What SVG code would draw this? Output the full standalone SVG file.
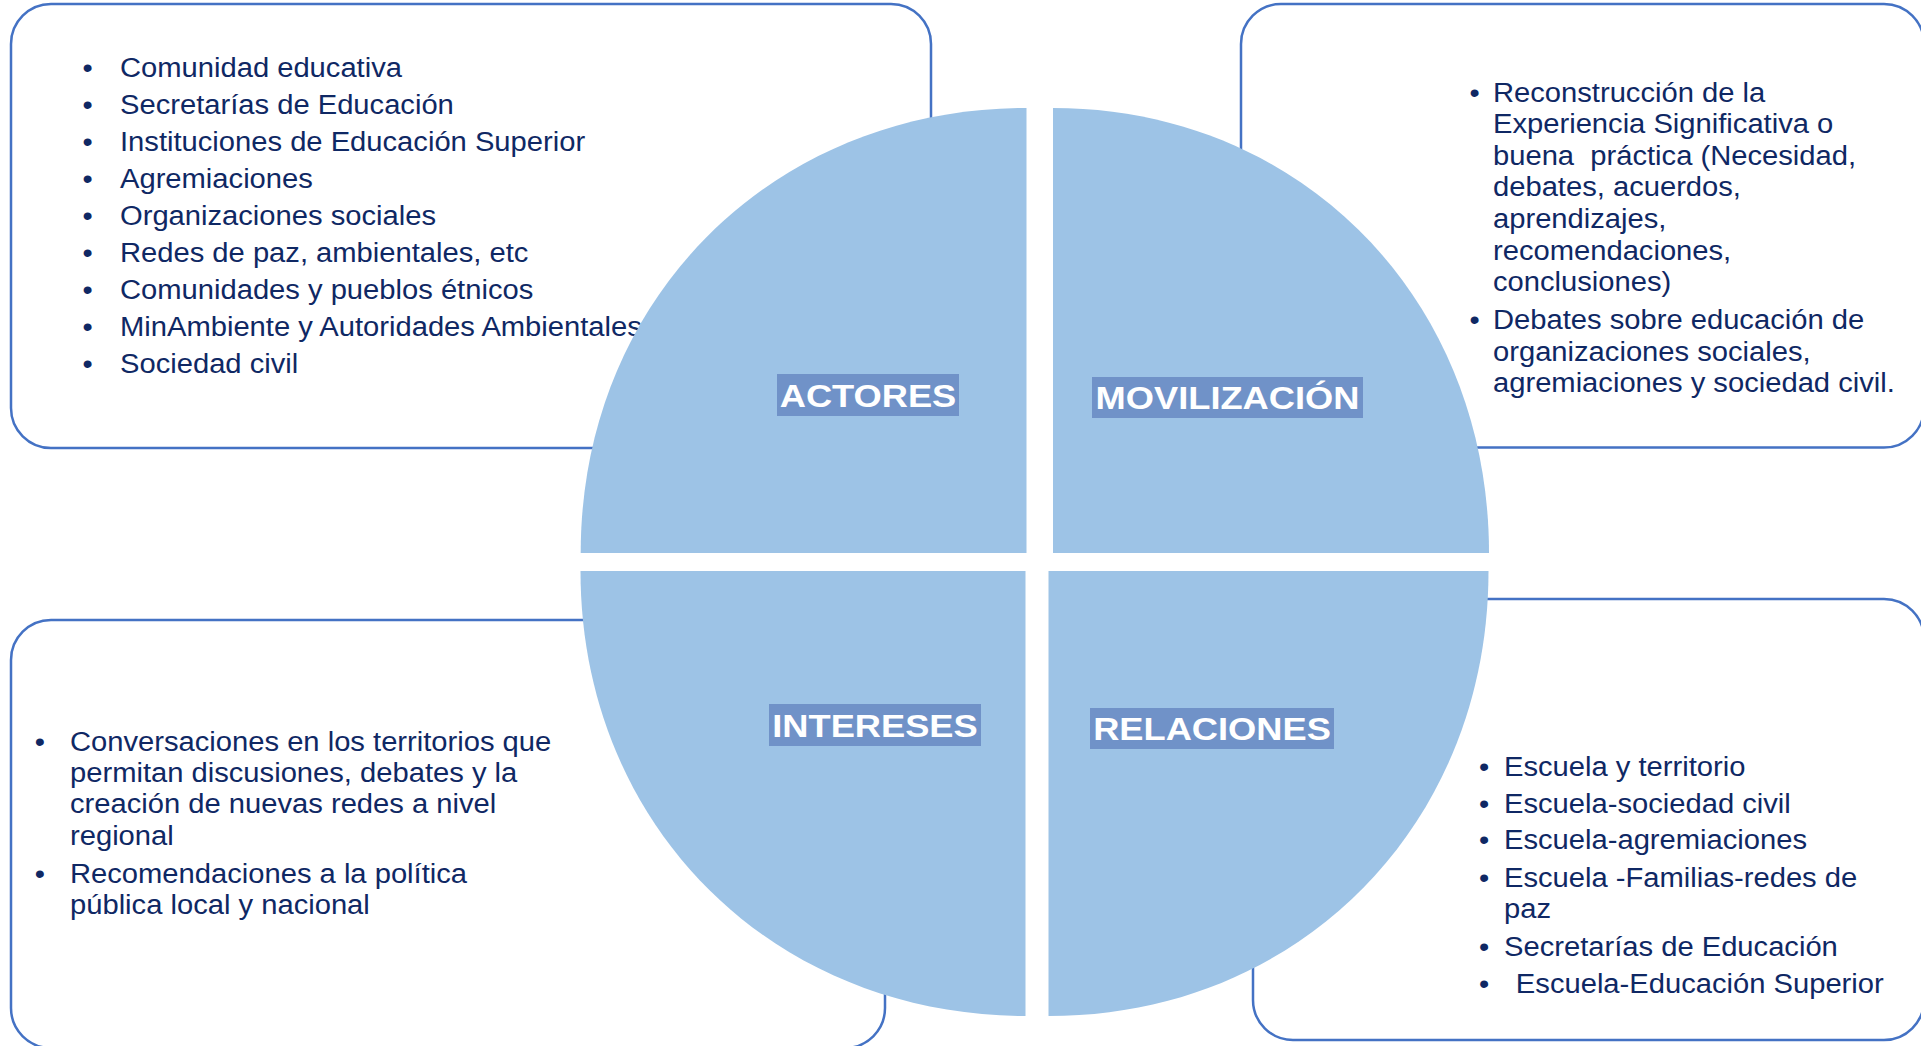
<svg xmlns="http://www.w3.org/2000/svg" width="1921" height="1046" viewBox="0 0 1921 1046">
<style>
.box{fill:#ffffff;stroke:#4472c4;stroke-width:2.5}
.q{fill:#9dc3e6}
.lbl{fill:#7092c8}
.lt{font-family:"Liberation Sans",Arial,sans-serif;font-weight:bold;font-size:31px;fill:#ffffff;text-anchor:middle}
.t{font-family:"Liberation Sans",Arial,sans-serif;font-size:27px;fill:#0f2864}
.b{font-family:"Liberation Sans",Arial,sans-serif;font-size:27px;fill:#0f2864;text-anchor:middle}
</style>
<rect width="1921" height="1046" fill="#ffffff"/>
<g id="box-actores">
<rect class="box" x="11" y="4" width="920" height="444" rx="40" ry="40"/>
<g transform="translate(120,0) scale(1.08,1)">
<text class="b" x="-30" y="77.3">•</text><text class="t" x="0" y="77.3">Comunidad educativa</text>
<text class="b" x="-30" y="114.3">•</text><text class="t" x="0" y="114.3">Secretarías de Educación</text>
<text class="b" x="-30" y="151.3">•</text><text class="t" x="0" y="151.3">Instituciones de Educación Superior</text>
<text class="b" x="-30" y="188.3">•</text><text class="t" x="0" y="188.3">Agremiaciones</text>
<text class="b" x="-30" y="225.3">•</text><text class="t" x="0" y="225.3">Organizaciones sociales</text>
<text class="b" x="-30" y="262.3">•</text><text class="t" x="0" y="262.3">Redes de paz, ambientales, etc</text>
<text class="b" x="-30" y="299.3">•</text><text class="t" x="0" y="299.3">Comunidades y pueblos étnicos</text>
<text class="b" x="-30" y="336.3">•</text><text class="t" x="0" y="336.3">MinAmbiente y Autoridades Ambientales</text>
<text class="b" x="-30" y="373.3">•</text><text class="t" x="0" y="373.3">Sociedad civil</text>
</g>
</g>
<g id="box-movilizacion">
<rect class="box" x="1241" y="4" width="683" height="443.5" rx="40" ry="40"/>
<g transform="translate(1493,0) scale(1.08,1)">
<text class="b" x="-17" y="101.7">•</text><text class="t" x="0" y="101.7">Reconstrucción de la</text>
<text class="t" x="0" y="133.3">Experiencia Significativa o</text>
<text class="t" x="0" y="164.9" xml:space="preserve">buena  práctica (Necesidad,</text>
<text class="t" x="0" y="196.5">debates, acuerdos,</text>
<text class="t" x="0" y="228.1">aprendizajes,</text>
<text class="t" x="0" y="259.7">recomendaciones,</text>
<text class="t" x="0" y="291.3">conclusiones)</text>
<text class="b" x="-17" y="329">•</text><text class="t" x="0" y="329">Debates sobre educación de</text>
<text class="t" x="0" y="360.6">organizaciones sociales,</text>
<text class="t" x="0" y="392.2">agremiaciones y sociedad civil.</text>
</g>
</g>
<g id="box-intereses">
<rect class="box" x="11" y="620" width="874" height="428" rx="40" ry="40"/>
<g transform="translate(70,0) scale(1.08,1)">
<text class="b" x="-28" y="750.7">•</text><text class="t" x="0" y="750.7">Conversaciones en los territorios que</text>
<text class="t" x="0" y="782">permitan discusiones, debates y la</text>
<text class="t" x="0" y="813.4">creación de nuevas redes a nivel</text>
<text class="t" x="0" y="845">regional</text>
<text class="b" x="-28" y="882.7">•</text><text class="t" x="0" y="882.7">Recomendaciones a la política</text>
<text class="t" x="0" y="914.2">pública local y nacional</text>
</g>
</g>
<g id="box-relaciones">
<rect class="box" x="1253" y="599" width="671" height="441" rx="40" ry="40"/>
<g transform="translate(1504,0) scale(1.08,1)">
<text class="b" x="-18.5" y="776">•</text><text class="t" x="0" y="776">Escuela y territorio</text>
<text class="b" x="-18.5" y="812.7">•</text><text class="t" x="0" y="812.7">Escuela-sociedad civil</text>
<text class="b" x="-18.5" y="849.3">•</text><text class="t" x="0" y="849.3">Escuela-agremiaciones</text>
<text class="b" x="-18.5" y="886.7">•</text><text class="t" x="0" y="886.7">Escuela -Familias-redes de</text>
<text class="t" x="0" y="918.3">paz</text>
<text class="b" x="-18.5" y="956">•</text><text class="t" x="0" y="956">Secretarías de Educación</text>
<text class="b" x="-18.5" y="992.7">•</text><text class="t" x="11" y="992.7">Escuela-Educación Superior</text>
</g>
</g>
<g id="quadrant-actores">
<path class="q" d="M1026.5,553 L580.7,553 C580.7,299.4 772.4,108 1026.5,108 Z"/>
<rect class="lbl" x="777" y="374" width="182" height="42"/>
<text class="lt" transform="translate(868,406.6) scale(1.17,1)">ACTORES</text>
</g>
<g id="quadrant-movilizacion">
<path class="q" d="M1053,553 L1053,108 C1301.5,108 1489,299.4 1489,553 Z"/>
<rect class="lbl" x="1092" y="377" width="271" height="41"/>
<text class="lt" transform="translate(1227.5,409.2) scale(1.17,1)">MOVILIZACIÓN</text>
</g>
<g id="quadrant-intereses">
<path class="q" d="M1025.5,571 L1025.5,1016 C771.9,1016 580.5,824.7 580.5,571 Z"/>
<rect class="lbl" x="769" y="704" width="212" height="42"/>
<text class="lt" transform="translate(875,736.6) scale(1.17,1)">INTERESES</text>
</g>
<g id="quadrant-relaciones">
<path class="q" d="M1048.5,571 L1488.5,571 C1488.5,824.7 1299.3,1016 1048.5,1016 Z"/>
<rect class="lbl" x="1090" y="708" width="244" height="41"/>
<text class="lt" transform="translate(1212,740) scale(1.17,1)">RELACIONES</text>
</g>
<g id="connectors"></g>
</svg>
